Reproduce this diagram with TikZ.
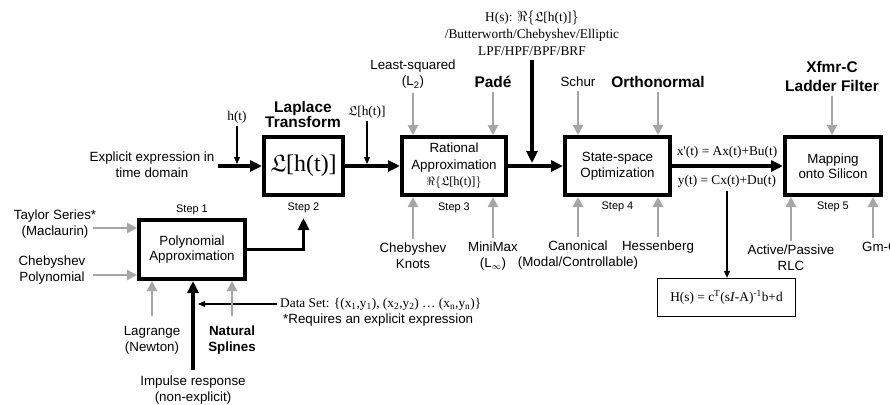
\documentclass[tikz,border=0pt]{standalone}
\usepackage{amssymb}
\usepackage{fontspec}
\setmainfont{Liberation Sans}
\newfontfamily\tnr{Liberation Serif}
\usetikzlibrary{arrows.meta}
\definecolor{grayarr}{RGB}{166,166,166}
\begin{document}
\begin{tikzpicture}[x=1bp,y=-1bp,
  box/.style={draw, line width=4.2bp, inner sep=0, align=center, font=\fontsize{13.4}{15.5}\selectfont},
  lab/.style={inner sep=0, align=center, font=\fontsize{13.4}{16}\selectfont},
  blab/.style={inner sep=0, align=center, font=\fontsize{13.4}{16}\selectfont\bfseries},
  tlab/.style={inner sep=0, align=center, font=\fontsize{15.5}{16}\selectfont\bfseries},
  slab/.style={inner sep=0, font=\fontsize{11}{13}\selectfont},
  serif/.style={inner sep=0, align=center, font=\tnr\fontsize{13.4}{17}\selectfont},
  thk/.style={line width=3.3bp, -{Triangle[length=12bp,width=11bp]}},
  gar/.style={grayarr, line width=2.6bp, -{Triangle[length=10bp,width=10bp]}},
  thn/.style={line width=1.1bp, -{Triangle[length=7bp,width=6bp]}}
]
\useasboundingbox (0,0) rectangle (890,404);
\clip (0,0) rectangle (890,404);

% boxes
\node[box, minimum width=78.8bp, minimum height=57.8bp] (lap) at (303.5,166) {\tnr\fontsize{24}{26}\selectfont$\mathfrak{L}$[h(t)]};
\node[box, minimum width=103.8bp, minimum height=57.8bp, font=\fontsize{13.4}{16.5}\selectfont] (rat) at (454,166) {Rational\\Approximation\\{\tnr\fontsize{12.5}{15}\selectfont$\Re\{\mathfrak{L}$[h(t)]$\}$}};
\node[box, minimum width=104.8bp, minimum height=57.8bp] (ss) at (617.5,166) {State-space\\Optimization};
\node[box, minimum width=95.8bp, minimum height=57.8bp] (map) at (833,166) {Mapping\\onto Silicon};
\node[box, minimum width=105.8bp, minimum height=58.8bp] (poly) at (192,249.5) {Polynomial\\Approximation};
\node[draw, line width=1.3bp, minimum width=138bp, minimum height=38bp, inner sep=0, font=\tnr\fontsize{13.4}{16}\selectfont] (hs) at (726.5,297.5) {H(s) = c\textsuperscript{T}(s\textit{I}-A)\textsuperscript{-1}b+d};

% step labels
\node[slab] (s1) at (192,210) {Step 1};
\node[slab] (s2) at (303.5,208) {Step 2};
\node[slab] (s3) at (454,208) {Step 3};
\node[slab] (s4) at (617.5,207) {Step 4};
\node[slab] (s5) at (833,207) {Step 5};

% titles
\node[tlab] (lt) at (303,114.5) {Laplace\\Transform};
\node[tlab] (pade) at (493,82) {Padé};
\node[tlab] (orth) at (658,82) {Orthonormal};
\node[tlab, font=\fontsize{15.5}{19}\selectfont\bfseries] (xf) at (832,76.5) {Xfmr-C\\Ladder Filter};

% labels
\node[lab] (lsq) at (413,74.5) {Least-squared\\(L\textsubscript{2})};
\node[lab] (schur) at (578,82) {Schur};
\node[lab] (expl) at (152,165) {Explicit expression in\\time domain};
\node[lab] (tay) at (55,224) {Taylor Series*\\(Maclaurin)};
\node[lab] (cheb) at (52,270.5) {Chebyshev\\Polynomial};
\node[lab] (lag) at (152,340) {Lagrange\\(Newton)};
\node[blab] (nat) at (232,340) {Natural\\Splines};
\node[lab] (imp) at (193,390) {Impulse response\\(non-explicit)};
\node[lab] (chk) at (413,256) {Chebyshev\\Knots};
\node[lab] (mm) at (493,256) {MiniMax\\(L\textsubscript{$\infty$})};
\node[lab] (can) at (578,255.5) {Canonical\\(Modal/Controllable)};
\node[lab] (hes) at (658,247) {Hessenberg};
\node[lab] (ap) at (791,258) {Active/Passive\\RLC};
\node[lab, anchor=west] (gmc) at (862,247) {Gm-C};
\node[lab, anchor=west] (req) at (283,320) {*Requires an explicit expression};
\node[serif, anchor=west] (ds) at (280,304) {Data Set: \{(x\textsubscript{1},y\textsubscript{1}), (x\textsubscript{2},y\textsubscript{2}) … (x\textsubscript{n},y\textsubscript{n})\}};
\node[serif] (ht) at (237,117) {h(t)};
\node[serif] (lht) at (367,112) {$\mathfrak{L}$[h(t)]};
\node[serif] (hsl) at (532,33) {H(s): $\Re\{\mathfrak{L}$[h(t)]$\}$\\/Butterworth/Chebyshev/Elliptic\\LPF/HPF/BPF/BRF};
\node[serif] (xe) at (727,152) {x'(t) = Ax(t)+Bu(t)};
\node[serif] (ye) at (727,181) {y(t) = Cx(t)+Du(t)};

% coordinates
\coordinate (e0) at (218,166);
\coordinate (s2in) at (303.5,218);
\coordinate (dsend) at (198,304);
\coordinate (tayt) at (93,228);
\coordinate (chebt) at (93,275);
\coordinate (gmt) at (873,238);

% main flow
\draw[thk] (e0) -- (lap.west);
\draw[thk] (lap.east) -- (rat.west);
\draw[thk] (rat.east) -- (ss.west);
\draw[thk] (ss.east) -- (map.west);
\draw[thk] (poly.east) -| (s2in);
\draw[thk, line width=3.8bp, shorten <=4bp, shorten >=3bp] (hsl.south) -- (hsl.south |- rat.east);
\draw[thk, shorten <=6bp] (imp.north) -- (imp.north |- poly.south);

% thin arrows
\draw[thn, shorten <=3bp, shorten >=2bp] (ht.south) -- (ht.south |- lap.west);
\draw[thn, shorten <=3bp, shorten >=2bp] (lht.south) -- (lht.south |- lap.east);
\draw[thn, shorten <=4bp] (ye.south) -- (ye.south |- hs.north);
\draw[thn, shorten <=3bp] (ds.west) -- (dsend);

% gray inputs
\draw[gar, shorten <=4bp] (lsq.south) -- (lsq.south |- rat.north);
\draw[gar, shorten <=4bp] (pade.south) -- (pade.south |- rat.north);
\draw[gar, shorten <=4bp] (schur.south) -- (schur.south |- ss.north);
\draw[gar, shorten <=4bp] (orth.south) -- (orth.south |- ss.north);
\draw[gar, shorten <=4bp] (xf.south) -- (xf.south |- map.north);
\draw[gar, shorten <=4bp] (chk.north) -- (chk.north |- rat.south);
\draw[gar, shorten <=4bp] (mm.north) -- (mm.north |- rat.south);
\draw[gar, shorten <=4bp] (can.north) -- (can.north |- ss.south);
\draw[gar, shorten <=4bp] (hes.north) -- (hes.north |- ss.south);
\draw[gar, shorten <=4bp] (ap.north) -- (ap.north |- map.south);
\draw[gar] (gmt) -- (gmt |- map.south);
\draw[gar] (tayt) -- (tayt -| poly.west);
\draw[gar] (chebt) -- (chebt -| poly.west);
\draw[gar, shorten <=10bp] (lag.north) -- (lag.north |- poly.south);
\draw[gar, shorten <=10bp] (nat.north) -- (nat.north |- poly.south);
\end{tikzpicture}
\end{document}
